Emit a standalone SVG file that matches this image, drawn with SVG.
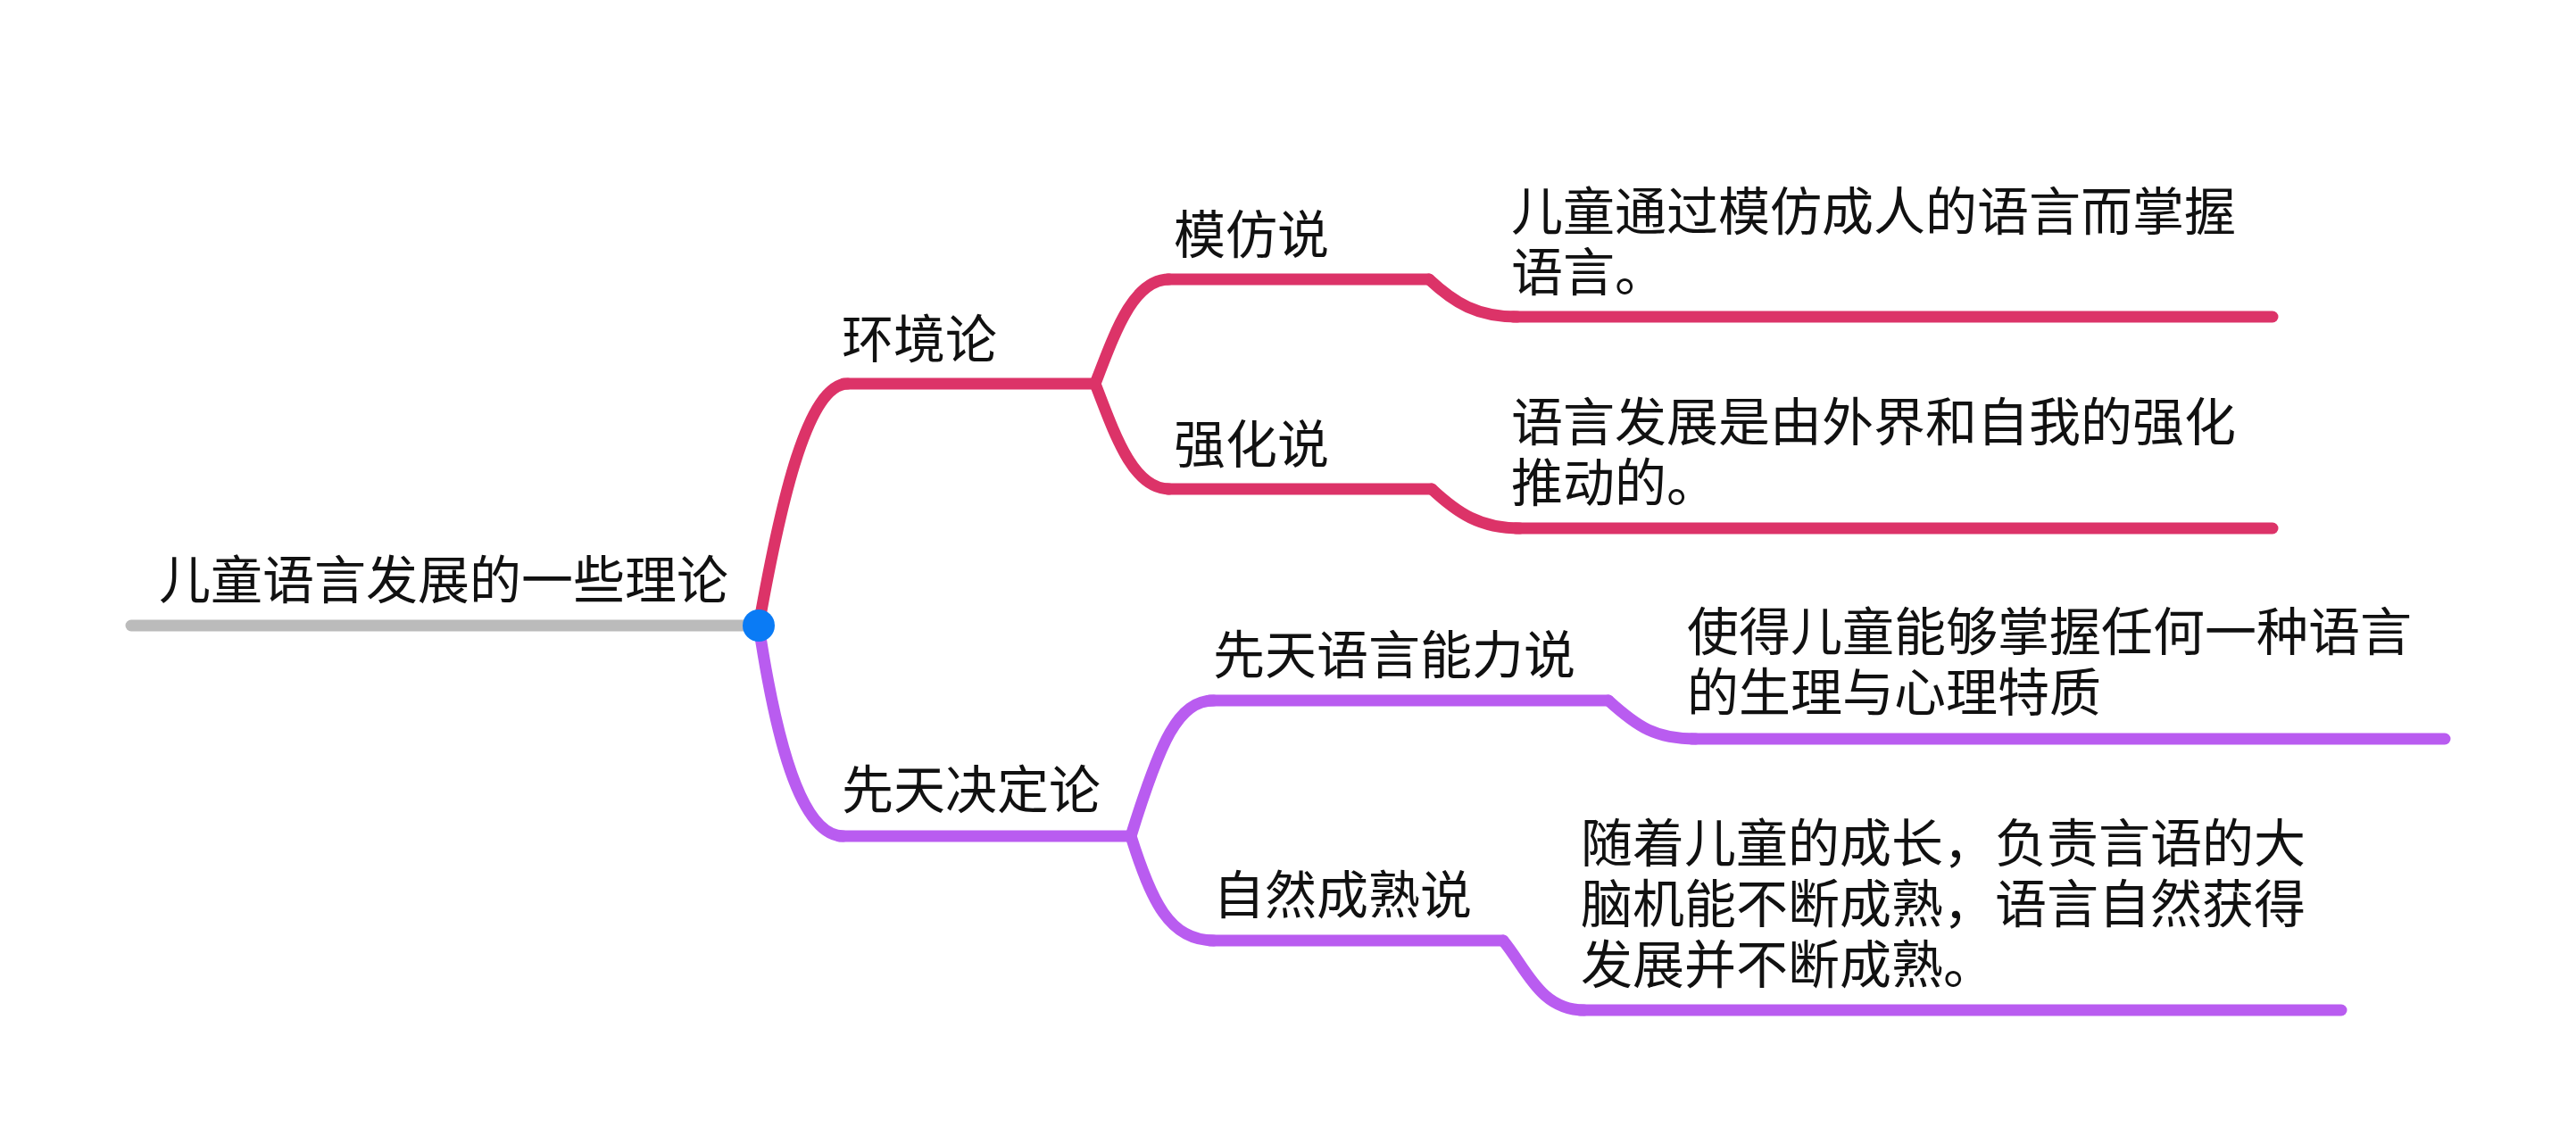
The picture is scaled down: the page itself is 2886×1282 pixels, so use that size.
<svg xmlns="http://www.w3.org/2000/svg" width="2886" height="1282" viewBox="0 0 2886 1282">
<style>
text { font-family: "Noto Sans CJK SC", "Noto Sans", sans-serif; font-size: 58px; fill: #111111; }
.ln { fill: none; stroke-width: 13; stroke-linecap: round; stroke-linejoin: round; }
.red { stroke: #DC3368; }
.pur { stroke: #B95CF0; }
.gray { stroke: #BBBBBB; }
</style>
<rect width="2886" height="1282" fill="#FFFFFF"/>
<g id="connectors">
  <path class="ln red" d="M850,701 C875,560 905,430 950,430"/>
  <path class="ln pur" d="M850,701 C868,820 895,937 945,937"/>
  <path class="ln red" d="M1227,430 C1250,370 1270,313 1310,313"/>
  <path class="ln red" d="M1227,430 C1250,490 1270,548 1310,548"/>
  <path class="ln red" d="M1601,313 C1630,340 1655,355 1700,355"/>
  <path class="ln red" d="M1604,548 C1633,575 1658,592 1703,592"/>
  <path class="ln pur" d="M1267,937 C1300,830 1320,785 1360,785"/>
  <path class="ln pur" d="M1267,937 C1290,1010 1310,1054 1360,1054"/>
  <path class="ln pur" d="M1802,785 C1835,815 1855,828 1900,828"/>
  <path class="ln pur" d="M1684,1054 C1710,1085 1725,1132 1775,1132"/>
</g>
<g id="root">
  <line class="ln gray" x1="147" y1="701" x2="850" y2="701"/>
  <text x="178" y="671">儿童语言发展的一些理论</text>
</g>
<g id="n-env">
  <line class="ln red" x1="945" y1="430" x2="1227" y2="430"/>
  <text x="943" y="401">环境论</text>
</g>
<g id="n-imit">
  <line class="ln red" x1="1308" y1="313" x2="1601" y2="313"/>
  <text x="1315" y="284">模仿说</text>
</g>
<g id="n-imit-desc">
  <line class="ln red" x1="1695" y1="355" x2="2546" y2="355"/>
  <text x="1693" y="258">儿童通过模仿成人的语言而掌握</text>
  <text x="1693" y="326">语言。</text>
</g>
<g id="n-reinf">
  <line class="ln red" x1="1308" y1="548" x2="1604" y2="548"/>
  <text x="1315" y="519">强化说</text>
</g>
<g id="n-reinf-desc">
  <line class="ln red" x1="1698" y1="592" x2="2546" y2="592"/>
  <text x="1693" y="494">语言发展是由外界和自我的强化</text>
  <text x="1693" y="562">推动的。</text>
</g>
<g id="n-innate">
  <line class="ln pur" x1="940" y1="937" x2="1267" y2="937"/>
  <text x="943" y="906">先天决定论</text>
</g>
<g id="n-lad">
  <line class="ln pur" x1="1355" y1="785" x2="1802" y2="785"/>
  <text x="1359" y="755">先天语言能力说</text>
</g>
<g id="n-lad-desc">
  <line class="ln pur" x1="1895" y1="828" x2="2739" y2="828"/>
  <text x="1890" y="729">使得儿童能够掌握任何一种语言</text>
  <text x="1890" y="797">的生理与心理特质</text>
</g>
<g id="n-mature">
  <line class="ln pur" x1="1355" y1="1054" x2="1684" y2="1054"/>
  <text x="1359" y="1024">自然成熟说</text>
</g>
<g id="n-mature-desc">
  <line class="ln pur" x1="1770" y1="1132" x2="2623" y2="1132"/>
  <text x="1771" y="966">随着儿童的成长，负责言语的大</text>
  <text x="1771" y="1034">脑机能不断成熟，语言自然获得</text>
  <text x="1771" y="1102">发展并不断成熟。</text>
</g>
<g id="root-dot">
  <circle cx="850" cy="701" r="18" fill="#0A7BF5"/>
</g>
</svg>
